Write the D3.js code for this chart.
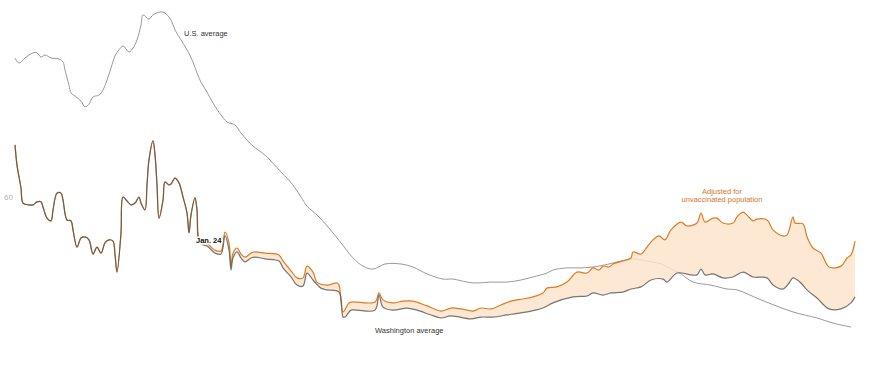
<!DOCTYPE html>
<html>
<head>
<meta charset="utf-8">
<script src="https://cdn.jsdelivr.net/npm/d3@7"></script>
<style>
  body { margin: 0; background: #fff; }
  text { font-family: "Liberation Sans", Arial, sans-serif; }
</style>
</head>
<body>
<div id="chart"></div>
<script>
(function() {

  var width = 895,
      height = 378;

  // [day, rate]
  var usAverage = [
    [0,106.1],[2,104.4],[5,106.1],[9,107.8],[11,107.8],[13,106.4],[15,107.1],[18,106.1],
    [22,105.8],[24,104.8],[25,102.1],[27,97.1],[28,94.5],[30,93.5],[33,91.8],[35,89.9],
    [37,90.8],[39,93.2],[42,93.8],[44,95.5],[46,98.8],[48,102.8],[50,106.8],[52,108.8],
    [54,110.1],[57,108.1],[59,109.4],[61,112.1],[63,117.0],[64,120.4],[67,119.0],[69,120.4],
    [73,121.4],[75,121.0],[78,118.7],[80,115.4],[83,112.1],[86,108.8],[89,104.8],[91,101.1],
    [93,98.1],[96,94.8],[99,91.2],[103,87.2],[106,84.9],[110,83.9],[113,81.2],[119,76.9],
    [125,73.9],[133,68.3],[139,64.0],[143,60.0],[146,57.0],[152,53.4],[159,48.1],[165,43.1],
    [169,39.8],[174,37.1],[179,36.1],[185,37.8],[193,37.8],[199,36.8],[206,34.5],[214,32.8],
    [219,32.8],[226,31.8],[231,31.5],[238,31.8],[246,31.8],[253,32.5],[259,33.5],[266,34.8],
    [269,35.8],[276,36.5],[283,36.5],[289,36.8],[295,37.5],[303,38.8],[309,39.5],[316,38.8],
    [323,37.8],[329,35.8],[333,34.5],[339,31.8],[348,30.8],[356,29.5],[361,29.2],[373,25.9],
    [389,21.9],[401,19.9],[409,18.2],[418,16.9]
  ];

  var washington = [
    [0,77.3],[1,70.6],[3,63.0],[4,58.0],[7,57.4],[9,57.4],[11,58.4],[13,58.4],[14,56.7],
    [16,53.0],[18,52.1],[19,55.7],[21,61.3],[23,61.3],[24,59.0],[26,52.4],[28,52.1],[29,49.1],
    [31,43.4],[33,46.4],[35,46.8],[37,45.8],[39,41.1],[41,43.4],[43,41.4],[45,44.8],[47,45.8],
    [49,45.4],[50,41.0],[51,35.1],[53,48.1],[54,60.0],[56,58.7],[58,57.4],[60,58.0],[62,60.0],
    [63,58.0],[65,55.7],[66,64.0],[67,72.3],[69,78.6],[70,74.0],[71,64.0],[72,53.0],[74,59.0],
    [75,65.0],[77,64.0],[78,64.3],[80,66.3],[82,64.7],[84,60.0],[86,54.7],[87,48.1],[88,54.0],
    [90,59.7],[91,55.7],[92,45.8],[94,44.1],[96,43.8],[100,41.4],[103,41.1],[105,47.1],
    [107,42.4],[108,35.8],[109,39.8],[111,41.8],[113,39.8],[115,38.5],[118,39.8],[120,40.1],
    [125,39.5],[132,38.8],[134,36.5],[138,33.5],[141,30.8],[144,30.5],[146,34.8],[149,32.5],
    [153,29.8],[156,29.2],[162,28.5],[164,20.2],[165,20.2],[168,22.5],[171,22.5],[180,22.5],
    [182,27.5],[184,23.5],[189,22.5],[196,23.2],[201,22.5],[208,20.9],[213,19.9],[218,20.6],
    [228,19.6],[233,20.2],[239,20.2],[246,20.9],[253,21.6],[258,22.2],[264,23.2],[269,24.9],
    [279,26.9],[286,27.2],[289,28.2],[294,27.5],[298,28.2],[304,28.5],[308,29.5],[313,30.2],
    [318,32.5],[324,32.8],[326,31.8],[331,34.8],[338,34.2],[341,34.2],[343,36.1],[345,34.2],
    [349,34.5],[354,33.2],[359,33.5],[364,35.1],[369,33.5],[376,33.2],[379,30.8],[384,29.5],
    [387,31.5],[389,33.2],[393,31.5],[396,29.2],[401,26.5],[407,22.9],[413,22.9],[418,24.9],
    [420,26.9]
  ];

  // adjusted for unvaccinated population, same as state average until Jan. 24
  var adjustedStart = 92;
  var adjustedAfter = [
    [94,45.8],[96,44.8],[100,42.4],[103,42.1],[105,48.4],[107,44.8],[108,37.1],[109,41.4],
    [111,43.1],[113,41.1],[115,40.1],[118,41.4],[120,41.8],[125,41.4],[132,40.8],[134,38.8],
    [138,35.5],[141,33.2],[144,33.2],[146,37.1],[149,35.1],[151,31.8],[156,30.8],[161,31.5],
    [162,30.8],[164,21.9],[167,24.9],[169,25.2],[180,25.2],[182,28.2],[184,25.9],[189,24.9],
    [194,25.5],[199,25.5],[206,23.9],[213,22.2],[218,23.2],[223,22.9],[229,22.2],[233,23.2],
    [238,22.9],[243,24.2],[248,25.5],[254,26.2],[259,26.9],[264,28.2],[266,29.8],[271,30.2],
    [276,31.8],[281,35.1],[286,34.8],[289,36.5],[292,35.8],[294,37.1],[297,36.8],[299,37.8],
    [304,38.8],[308,39.8],[309,41.8],[313,41.1],[316,43.4],[319,45.8],[322,47.1],[325,45.8],
    [328,49.1],[333,51.7],[336,50.4],[341,51.4],[343,54.7],[345,51.7],[349,53.0],[351,53.0],
    [354,51.4],[359,51.4],[361,53.4],[364,55.0],[366,54.0],[369,52.1],[371,52.7],[376,52.4],
    [379,49.1],[384,47.1],[386,47.4],[389,53.4],[390,51.4],[394,51.1],[396,46.8],[399,43.1],
    [403,41.4],[407,36.8],[413,37.1],[416,39.8],[418,40.8],[420,45.4]
  ];

  var adjusted = washington.filter(d => d[0] <= adjustedStart).concat(adjustedAfter);

  var yTicks = [60];

  var x = d3.scaleLinear()
      .domain([0, 420])
      .range([15, 855]);

  var y = d3.scaleLinear()
      .domain([0, 125])
      .range([378, 1]);

  var curve = d3.curveCatmullRom.alpha(0.5);

  var svg = d3.select("#chart").append("svg")
      .attr("width", width)
      .attr("height", height);

  var line = d3.line()
      .x(d => x(d[0]))
      .y(d => y(d[1]))
      .curve(curve);

  // y axis label only
  var yAxis = d3.axisLeft(y)
      .tickValues(yTicks)
      .tickSize(0)
      .tickPadding(0);

  svg.append("g")
      .attr("class", "axis")
      .attr("transform", "translate(13,0)")
      .call(yAxis)
      .call(g => g.select(".domain").remove())
      .call(g => g.selectAll("text")
        .attr("fill", "#b5b5b5")
        .style("font-size", "8px")
        .attr("dy", "0.32em"));

  svg.append("path")
      .datum(usAverage)
      .attr("d", line)
      .attr("fill", "none")
      .attr("stroke", "#9a9a9a")
      .attr("stroke-width", 1);

  // gap between state and adjusted lines
  var clipArea = d3.area()
      .x(d => x(d[0]))
      .y0(0)
      .y1(d => y(d[1]))
      .curve(curve);

  var fillArea = d3.area()
      .x(d => x(d[0]))
      .y0(height)
      .y1(d => y(d[1]))
      .curve(curve);

  svg.append("clipPath")
      .attr("id", "above-state")
    .append("path")
      .attr("d", clipArea(washington));

  svg.append("path")
      .attr("d", fillArea(adjusted))
      .attr("clip-path", "url(#above-state)")
      .attr("fill", "#fde3cb")
      .attr("fill-opacity", 0.82);

  svg.append("path")
      .datum(adjusted)
      .attr("d", line)
      .attr("fill", "none")
      .attr("stroke", "#df7b22")
      .attr("stroke-width", 1.2);

  svg.append("path")
      .datum(washington)
      .attr("d", line)
      .attr("fill", "none")
      .attr("stroke", "#555")
      .attr("stroke-opacity", 0.8)
      .attr("stroke-width", 1.2);

  function label(tx, ty, txt, color, weight, anchor) {
    return svg.append("text")
        .attr("x", tx)
        .attr("y", ty)
        .attr("text-anchor", anchor || "start")
        .attr("fill", color)
        .style("font-size", "7.5px")
        .style("font-weight", weight || "normal")
        .text(txt);
  }

  label(184, 36, "U.S. average", "#333");
  label(375, 333, "Washington average", "#333");
  label(722, 194, "Adjusted for", "#d47626", null, "middle");
  label(722, 202, "unvaccinated population", "#d47626", null, "middle");

  label(x(adjustedStart) - 3, 243, "Jan. 24", "#111", "bold")
      .attr("stroke", "#fff")
      .attr("stroke-width", 3)
      .attr("paint-order", "stroke")
      .attr("stroke-linejoin", "round");

})();
</script>
</body>
</html>
